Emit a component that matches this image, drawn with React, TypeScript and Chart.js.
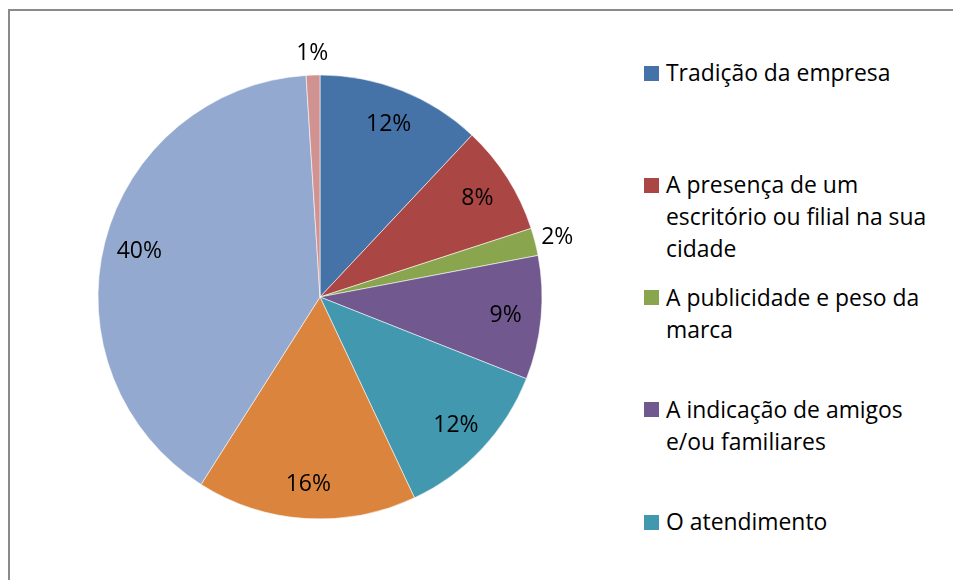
import React, { useEffect, useRef } from "react";
import { Chart, registerables } from "chart.js";

Chart.register(...registerables);

const categories: string[] = [
  "Tradição da empresa",
  "A presença de um escritório ou filial na sua cidade",
  "A publicidade e peso da marca",
  "A indicação de amigos e/ou familiares",
  "O atendimento",
  "O preço",
  "A qualidade dos serviços",
  "Outros",
];
const values: number[] = [12, 8, 2, 9, 12, 16, 40, 1];
const colors: string[] = [
  "#4572A7",
  "#AA4643",
  "#89A54E",
  "#71588F",
  "#4198AF",
  "#DB843D",
  "#93A9CF",
  "#D19392",
];

const FONT = "'Open Sans', Lato, sans-serif";

const labelPlugin = {
  id: "pctLabels",
  afterDatasetsDraw(chart: any) {
    const ctx = chart.ctx;
    const meta = chart.getDatasetMeta(0);
    const ds = chart.data.datasets[0].data as number[];
    const total = ds.reduce((a, b) => a + b, 0);
    ctx.save();
    ctx.fillStyle = "#000";
    ctx.font = `23px ${FONT}`;
    ctx.textAlign = "center";
    ctx.textBaseline = "middle";
    meta.data.forEach((arc: any, i: number) => {
      const p = arc.getProps(["x", "y", "startAngle", "endAngle", "outerRadius"], true);
      const mid = (p.startAngle + p.endAngle) / 2;
      const pct = Math.round((ds[i] / total) * 100);
      const r = pct < 5 ? p.outerRadius + 23 : p.outerRadius * 0.84;
      const x = p.x + Math.cos(mid) * r;
      const y = p.y + Math.sin(mid) * r + 1;
      ctx.fillText(`${pct}%`, x, y);
    });
    ctx.restore();
  },
};

export default function App() {
  const canvasRef = useRef<HTMLCanvasElement | null>(null);

  useEffect(() => {
    if (!canvasRef.current) return;
    const chart = new Chart(canvasRef.current, {
      type: "pie",
      data: {
        labels: categories,
        datasets: [
          {
            data: values,
            backgroundColor: colors,
            borderColor: "rgba(255,255,255,0.55)",
            borderWidth: 1,
          },
        ],
      },
      options: {
        animation: false,
        responsive: false,
        radius: 222,
        layout: { padding: 0 },
        plugins: {
          legend: { display: false },
          tooltip: { enabled: false },
        },
      },
      plugins: [labelPlugin],
    });
    return () => chart.destroy();
  }, []);

  return (
    <div
      style={{
        position: "fixed",
        left: 0,
        top: 0,
        width: 953,
        height: 580,
        overflow: "hidden",
        fontFamily: FONT,
        background: "#fff",
      }}
    >
      <div
        style={{
          position: "absolute",
          left: 8,
          top: 9,
          width: 1100,
          height: 800,
          borderLeft: "2px solid #8a8a8a",
          borderTop: "2px solid #8a8a8a",
        }}
      />
      <canvas
        ref={canvasRef}
        width={620}
        height={572}
        style={{ position: "absolute", left: 10, top: 11, width: 620, height: 572 }}
      />
      <div style={{ position: "absolute", left: 644, top: 57, width: 309 }}>
        {categories.map((c, i) => (
          <div key={i} style={{ position: "relative", height: 112.25 }}>
            <div
              style={{
                position: "absolute",
                left: 0,
                top: 8.5,
                width: 15,
                height: 15,
                background: colors[i],
              }}
            />
            <div
              style={{
                position: "absolute",
                left: 22,
                top: 0,
                width: 285,
                fontSize: 22.9,
                lineHeight: "32px",
                color: "#000",
              }}
            >
              {c}
            </div>
          </div>
        ))}
      </div>
    </div>
  );
}
